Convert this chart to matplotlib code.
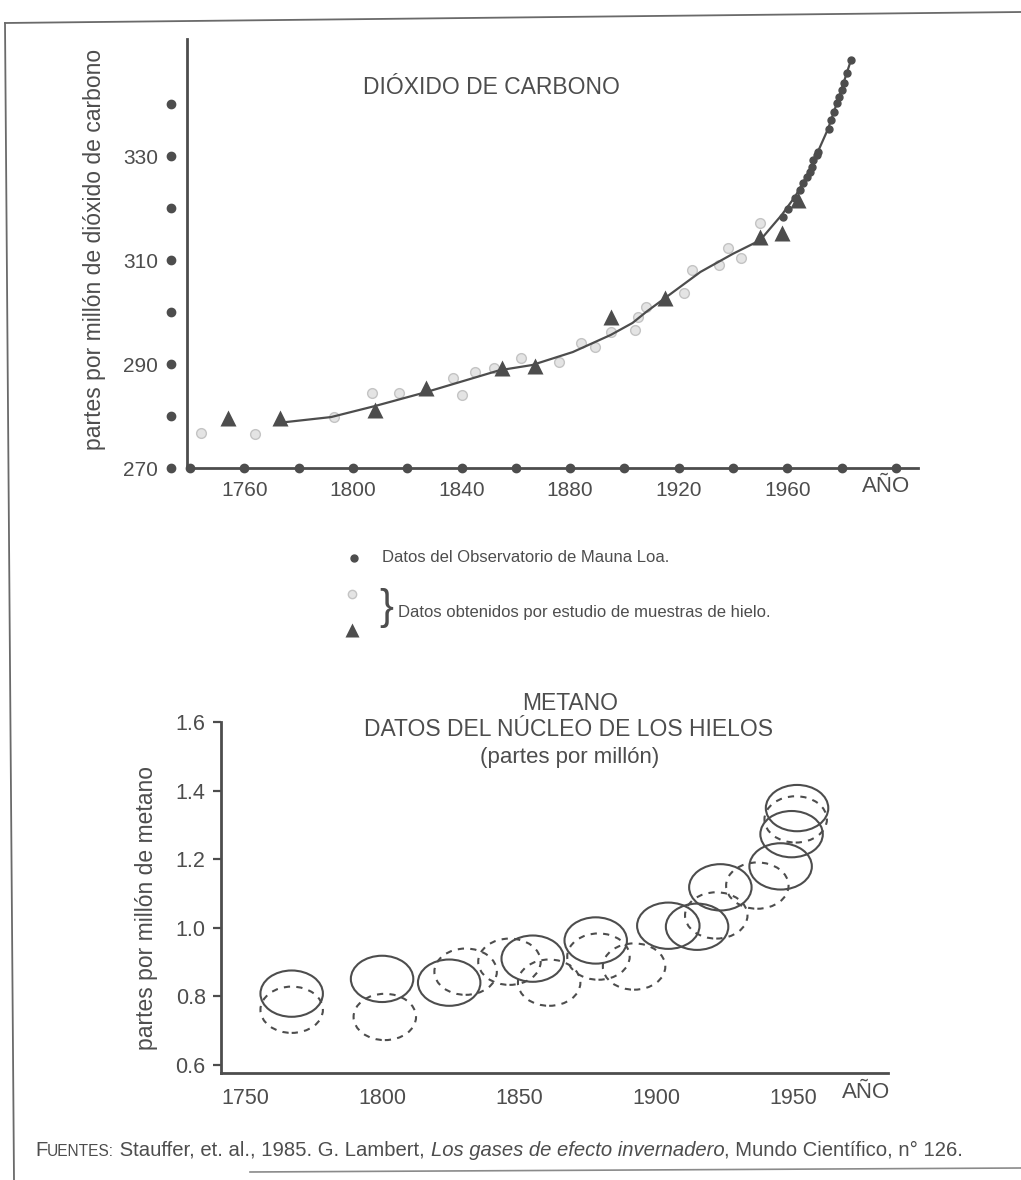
import matplotlib
matplotlib.use('Agg')
import matplotlib.pyplot as plt
from matplotlib.patches import Ellipse
from matplotlib.lines import Line2D
from matplotlib import font_manager

W, H = 1021, 1180
INK = '#4d4d4d'
LIGHT = '#e4e4e4'
LIGHT_EDGE = '#c4c4c4'

####################################
# Data
####################################

# CO2 - ice core triangles
tri_year = [1754, 1773, 1808, 1827, 1855, 1867, 1895, 1915, 1950, 1958, 1964]
tri_ppm = [279.6, 279.6, 281.2, 285.4, 289.2, 289.6, 299.0, 302.7, 314.4, 315.2, 321.5]

# CO2 - ice core light circles
ice_year = [1744, 1764, 1793, 1807, 1817, 1837, 1840, 1845, 1852, 1862, 1876,
            1884, 1889, 1895, 1904, 1905, 1908, 1922, 1925, 1935, 1938, 1943, 1950]
ice_ppm = [276.7, 276.5, 279.8, 284.4, 284.4, 287.3, 284.0, 288.5, 289.2, 291.2, 290.4,
           294.0, 293.3, 296.2, 296.5, 299.0, 301.0, 303.7, 308.1, 309.0, 312.3, 310.4, 317.1]

# CO2 - Mauna Loa observatory
ml_year = [1958.4, 1960.3, 1962.8, 1964.7, 1965.8, 1967.3, 1968.4, 1969.1, 1969.5, 1971.0,
           1971.3, 1975.4, 1976.1, 1977.2, 1978.3, 1979.0, 1980.1, 1980.9, 1982.0, 1983.5]
ml_ppm = [318.3, 319.8, 321.9, 323.5, 324.8, 326.0, 326.9, 327.9, 329.2, 330.2,
          330.8, 335.2, 336.9, 338.5, 340.2, 341.3, 342.7, 344.0, 346.0, 348.5]

# CO2 - fitted curve
curve_year = [1773, 1792, 1808, 1827, 1854, 1866, 1881, 1895, 1903, 1908, 1915,
              1928, 1940, 1950, 1958, 1963, 1967, 1971, 1975, 1979, 1983.5]
curve_ppm = [278.7, 279.8, 281.9, 284.6, 288.8, 289.8, 292.3, 295.6, 297.9, 300.0, 302.7,
             307.7, 311.2, 313.8, 318.7, 322.3, 326.0, 330.5, 335.2, 341.3, 348.5]

co2_dot_years = list(range(1740, 2001, 20))
co2_dot_ppm = list(range(270, 341, 10))
co2_xticks = [1760, 1800, 1840, 1880, 1920, 1960]
co2_yticks = [270, 290, 310, 330]

# Methane - ellipse centres
ch4_solid_year = [1767, 1800, 1824.5, 1855, 1878, 1904.5, 1915, 1923.5, 1945.5, 1949.5, 1951.5]
ch4_solid_ppm = [0.808, 0.851, 0.840, 0.910, 0.963, 1.006, 1.003, 1.118, 1.179, 1.273, 1.349]
ch4_dash_year = [1767, 1801, 1830.5, 1846.5, 1861, 1879, 1892, 1922, 1937, 1951]
ch4_dash_ppm = [0.761, 0.740, 0.872, 0.901, 0.840, 0.916, 0.887, 1.036, 1.123, 1.316]

ch4_xticks = [1750, 1800, 1850, 1900, 1950]
ch4_yticks = [0.6, 0.8, 1.0, 1.2, 1.4, 1.6]

####################################
# Figure
####################################

plt.rcParams['font.family'] = ['Liberation Sans', 'DejaVu Sans']
fig = plt.figure(figsize=(W / 100, H / 100), dpi=100)
fig.patch.set_facecolor('white')


def ftext(px, py, s, **kw):
    kw.setdefault('color', INK)
    return fig.text(px / W, 1 - py / H, s, **kw)


def fline(xs, ys, **kw):
    fig.add_artist(Line2D([x / W for x in xs], [1 - y / H for y in ys],
                          transform=fig.transFigure, **kw))


# frame of the scanned page
fline([5, 1021], [23, 12], color='#6a6a6a', lw=1.3)
fline([5, 14], [23, 1180], color='#6a6a6a', lw=1.3)
fline([250, 1021], [1172, 1168], color='#8a8a8a', lw=1.2)

# ---------- CO2 chart ----------
ax1 = fig.add_axes([187.3 / W, 1 - 468 / H, 730.3 / W, 429 / H])
ax1.set_xlim(1739, 2008)
ax1.set_ylim(270, 352.5)
for s in ['top', 'right']:
    ax1.spines[s].set_visible(False)
for s in ['left', 'bottom']:
    ax1.spines[s].set_color(INK)
    ax1.spines[s].set_linewidth(2)

ax1.set_xticks(co2_xticks)
ax1.set_xticklabels([str(t) for t in co2_xticks])
ax1.set_yticks(co2_yticks)
ax1.set_yticklabels([str(t) for t in co2_yticks])
ax1.tick_params(axis='x', length=0, pad=9, labelsize=15, labelcolor=INK)
ax1.tick_params(axis='y', length=0, pad=21, labelsize=15, labelcolor=INK)

# dot ticks
ax1.plot(co2_dot_years, [270] * len(co2_dot_years), 'o', color=INK, ms=6, clip_on=False, zorder=5)
ax1.plot([-0.022] * len(co2_dot_ppm), co2_dot_ppm, 'o', color=INK, ms=6, clip_on=False,
         transform=ax1.get_yaxis_transform())

ax1.plot(curve_year, curve_ppm, color=INK, lw=1.6, zorder=3)
ax1.plot(ice_year, ice_ppm, 'o', color=LIGHT, mec=LIGHT_EDGE, mew=1.0, ms=7, zorder=2)
ax1.plot(tri_year, tri_ppm, '^', color=INK, ms=11, mec='none', zorder=4)
ax1.plot(ml_year, ml_ppm, 'o', color=INK, ms=5, zorder=5)

ax1.set_ylabel('partes por millón de dióxido de carbono', fontsize=16.5, color=INK)
ax1.yaxis.set_label_coords(-0.112, 0.51)

ftext(491, 88, 'DIÓXIDO DE CARBONO', fontsize=16.5, ha='center', va='center')
ftext(886, 486, 'AÑO', fontsize=16, ha='center', va='center')

# legend
fig.add_artist(Line2D([354 / W], [1 - 558 / H], marker='o', ms=5, color=INK,
                      transform=fig.transFigure))
ftext(382, 558, 'Datos del Observatorio de Mauna Loa.', fontsize=12, va='center')
fig.add_artist(Line2D([352 / W], [1 - 594 / H], marker='o', ms=6, color=LIGHT, mec=LIGHT_EDGE,
                      transform=fig.transFigure))
fig.add_artist(Line2D([352 / W], [1 - 630 / H], marker='^', ms=10, color=INK, mec='none',
                      transform=fig.transFigure))
ftext(386, 608, '}', fontsize=30, ha='center', va='center', fontweight='light')
ftext(398, 612, 'Datos obtenidos por estudio de muestras de hielo.', fontsize=12, va='center')

# ---------- Methane chart ----------
ax2 = fig.add_axes([221 / W, 1 - 1073 / H, 667 / W, 351 / H])
ax2.set_xlim(1741.2, 1984.7)
ax2.set_ylim(0.5766, 1.6)
for s in ['top', 'right']:
    ax2.spines[s].set_visible(False)
for s in ['left', 'bottom']:
    ax2.spines[s].set_color(INK)
    ax2.spines[s].set_linewidth(2)
ax2.set_xticks(ch4_xticks)
ax2.set_xticklabels([str(t) for t in ch4_xticks])
ax2.set_yticks(ch4_yticks)
ax2.set_yticklabels(['%.1f' % t for t in ch4_yticks])
ax2.tick_params(axis='x', length=0, pad=11, labelsize=15.5, labelcolor=INK)
ax2.tick_params(axis='y', length=6, width=1.6, color=INK, pad=5, labelsize=15.5, labelcolor=INK)

EW, EH = 22.8, 0.135
for yr, v in zip(ch4_dash_year, ch4_dash_ppm):
    ax2.add_patch(Ellipse((yr, v), EW, EH, fill=False, ec=INK, lw=1.5, ls=(0, (3, 3))))
for yr, v in zip(ch4_solid_year, ch4_solid_ppm):
    ax2.add_patch(Ellipse((yr, v), EW, EH, fill=False, ec=INK, lw=1.5))

ax2.set_ylabel('partes por millón de metano', fontsize=16.5, color=INK)
ax2.yaxis.set_label_coords(-0.095, 0.47)

ftext(570, 704, 'METANO', fontsize=16.5, ha='center', va='center')
ftext(569, 729, 'DATOS DEL NÚCLEO DE LOS HIELOS', fontsize=16.5, ha='center', va='center')
ftext(570, 758, '(partes por millón)', fontsize=16, ha='center', va='center')
ftext(866, 1092, 'AÑO', fontsize=16, ha='center', va='center')

# ---------- footer ----------
names = {f.name for f in font_manager.fontManager.ttflist}
narrow = 'Liberation Sans Narrow' if 'Liberation Sans Narrow' in names else 'Liberation Sans'
pieces = [('F', 15, 'normal'), ('UENTES:', 11.5, 'normal'),
          (' Stauffer, et. al., 1985. G. Lambert, ', 15, 'normal'),
          ('Los gases de efecto invernadero', 15, 'italic'),
          (', Mundo Científico, n° 126.', 15, 'normal')]
renderer = fig.canvas.get_renderer()


def lay_footer(scale):
    arts = []
    x = 35
    for s, size, style in pieces:
        t = ftext(x, 1156, s, fontsize=size * scale, style=style, family=narrow,
                  va='baseline')
        x += t.get_window_extent(renderer).width
        arts.append(t)
    return arts, x - 35


arts, width = lay_footer(1.0)
if abs(width - 930) > 10:
    k = 930 / width
    for a in arts:
        a.remove()
    lay_footer(k)

fig.savefig('out.png', dpi=100, facecolor='white')
